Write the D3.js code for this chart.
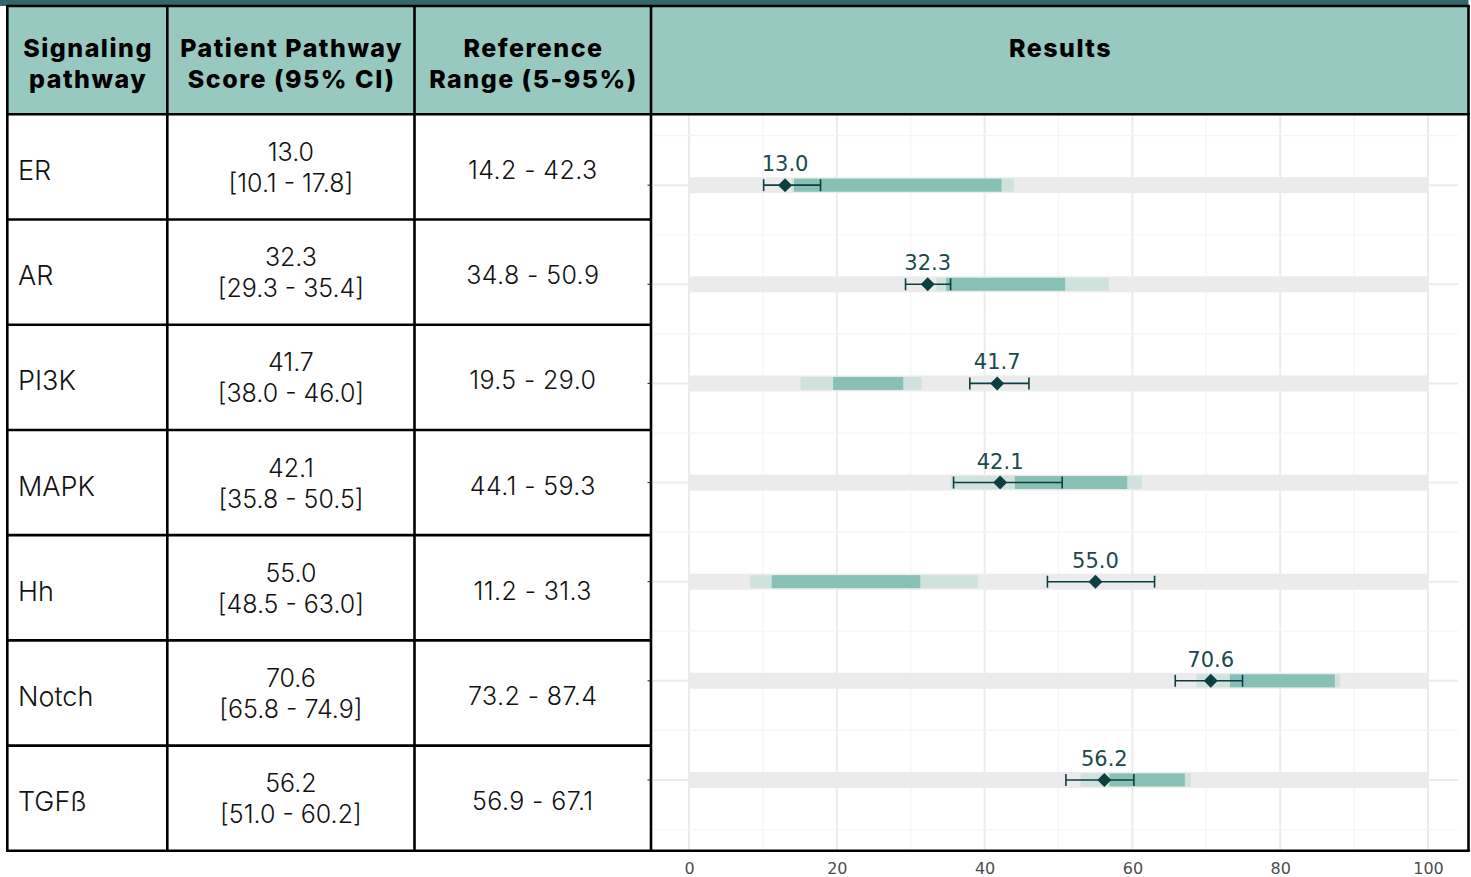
<!DOCTYPE html>
<html>
<head>
<meta charset="utf-8">
<script src="https://cdn.jsdelivr.net/npm/d3@7"></script>
<style>
  html, body { margin: 0; padding: 0; background: #ffffff; }
  svg { display: block; }
</style>
</head>
<body>
<svg id="chart" width="1471" height="877"></svg>
<script>
// ---------------- data ----------------
const pathways   = ["ER", "AR", "PI3K", "MAPK", "Hh", "Notch", "TGFß"];
const scores     = [13.0, 32.3, 41.7, 42.1, 55.0, 70.6, 56.2];
const ciLow      = [10.1, 29.3, 38.0, 35.8, 48.5, 65.8, 51.0];
const ciHigh     = [17.8, 35.4, 46.0, 50.5, 63.0, 74.9, 60.2];
const refLow     = [14.2, 34.8, 19.5, 44.1, 11.2, 73.2, 56.9];
const refHigh    = [42.3, 50.9, 29.0, 59.3, 31.3, 87.4, 67.1];
const outerLow   = [13.9, 33.5, 15.1, 35.4, 8.3, 68.7, 53.0];
const outerHigh  = [44.0, 56.8, 31.5, 61.3, 39.1, 88.1, 67.9];
const xTicks     = [0, 20, 40, 60, 80, 100];
const xMinor     = [10, 30, 50, 70, 90];
const headers    = [["Signaling", "pathway"], ["Patient Pathway", "Score (95% CI)"], ["Reference", "Range (5-95%)"], ["Results"]];

// ---------------- layout ----------------
const svg = d3.select("#chart");
const colX = [7.3, 167.3, 414.5, 651, 1468.5];
const headTop = 6, headBottom = 114.3, tableBottom = 850.8;
const rowH = (tableBottom - headBottom) / pathways.length;

const panel = { left: 653, right: 1458, top: headBottom, bottom: tableBottom };
const x = d3.scaleLinear().domain([0, 100]).range([689, 1428]);
const y = d3.scalePoint().domain(pathways).range([panel.top, panel.bottom]).padding(0.715);

const C = {
  strip: "#31676a", head: "#98c9c1", gray: "#ebebeb", outer: "#cfe2de",
  inner: "#89c0b6", mark: "#0c3f40", label: "#1a4a4c", grid: "#ebebeb", gridMinor: "#f4f4f4"
};

// top strip
svg.append("rect").attr("x", 0).attr("y", 0).attr("width", 1468.5).attr("height", 6).attr("fill", C.strip);
// header fill
svg.append("rect").attr("x", colX[0]).attr("y", headTop).attr("width", colX[4] - colX[0]).attr("height", headBottom - headTop).attr("fill", C.head);

// ---------------- plot panel ----------------
const g = svg.append("g");
// vertical gridlines
g.selectAll("line.vmin").data(xMinor).join("line")
  .attr("x1", d => x(d)).attr("x2", d => x(d)).attr("y1", panel.top).attr("y2", panel.bottom)
  .attr("stroke", C.gridMinor).attr("stroke-width", 1.2);
g.selectAll("line.vmaj").data(xTicks).join("line")
  .attr("x1", d => x(d)).attr("x2", d => x(d)).attr("y1", panel.top).attr("y2", panel.bottom)
  .attr("stroke", C.grid).attr("stroke-width", 2);
// horizontal gridlines
const stepY = y.step();
const minorY = d3.range(pathways.length + 1).map(i => y(pathways[0]) - stepY / 2 + i * stepY)
  .filter(v => v > panel.top && v < panel.bottom);
g.selectAll("line.hmin").data(minorY).join("line")
  .attr("x1", panel.left).attr("x2", panel.right).attr("y1", d => d).attr("y2", d => d)
  .attr("stroke", C.gridMinor).attr("stroke-width", 1.2);
g.selectAll("line.hmaj").data(pathways).join("line")
  .attr("x1", panel.left).attr("x2", panel.right).attr("y1", d => y(d)).attr("y2", d => y(d))
  .attr("stroke", C.grid).attr("stroke-width", 2);

// background bars 0-100
g.selectAll("rect.bg").data(pathways).join("rect")
  .attr("x", x(0)).attr("width", x(100) - x(0))
  .attr("y", d => y(d) - 8).attr("height", 16).attr("fill", C.gray);
// outer range
g.selectAll("rect.outer").data(pathways).join("rect")
  .attr("x", (d, i) => x(outerLow[i])).attr("width", (d, i) => x(outerHigh[i]) - x(outerLow[i]))
  .attr("y", d => y(d) - 6.5).attr("height", 13).attr("fill", C.outer);
// reference range 5-95
g.selectAll("rect.inner").data(pathways).join("rect")
  .attr("x", (d, i) => x(refLow[i])).attr("width", (d, i) => x(refHigh[i]) - x(refLow[i]))
  .attr("y", d => y(d) - 6.5).attr("height", 13).attr("fill", C.inner);

// error bars
const eb = g.selectAll("g.eb").data(pathways).join("g");
eb.append("line")
  .attr("x1", (d, i) => x(ciLow[i])).attr("x2", (d, i) => x(ciHigh[i]))
  .attr("y1", d => y(d)).attr("y2", d => y(d))
  .attr("stroke", C.mark).attr("stroke-width", 1.6);
eb.append("line")
  .attr("x1", (d, i) => x(ciLow[i])).attr("x2", (d, i) => x(ciLow[i]))
  .attr("y1", d => y(d) - 6).attr("y2", d => y(d) + 6)
  .attr("stroke", C.mark).attr("stroke-width", 1.6);
eb.append("line")
  .attr("x1", (d, i) => x(ciHigh[i])).attr("x2", (d, i) => x(ciHigh[i]))
  .attr("y1", d => y(d) - 6).attr("y2", d => y(d) + 6)
  .attr("stroke", C.mark).attr("stroke-width", 1.6);
// diamonds
g.selectAll("path.dia").data(pathways).join("path")
  .attr("d", (d, i) => {
    const cx = x(scores[i]), cy = y(d);
    return `M${cx - 7},${cy} L${cx},${cy - 7} L${cx + 7},${cy} L${cx},${cy + 7} Z`;
  })
  .attr("fill", C.mark);
// score labels
g.selectAll("text.lab").data(pathways).join("text")
  .attr("x", (d, i) => x(scores[i])).attr("y", d => y(d) - 14)
  .attr("text-anchor", "middle")
  .attr("font-family", "DejaVu Sans").attr("font-size", 21).attr("fill", C.label)
  .text((d, i) => scores[i].toFixed(1));

// y ticks
g.selectAll("line.ytick").data(pathways).join("line")
  .attr("x1", 647.5).attr("x2", colX[3]).attr("y1", d => y(d)).attr("y2", d => y(d))
  .attr("stroke", "#333").attr("stroke-width", 1.1);

// x axis labels
const xAxis = d3.axisBottom(x).tickValues(xTicks).tickSize(0).tickPadding(0).tickFormat(d3.format("d"));
const ax = svg.append("g").attr("transform", `translate(0,${tableBottom})`).call(xAxis);
ax.select(".domain").remove();
ax.selectAll("text").attr("font-family", "DejaVu Sans").attr("font-size", 16).attr("fill", "#4d4d4d")
  .attr("dy", null).attr("y", 23);

// ---------------- table ----------------
const bodyFont = "Inter";
const t = svg.append("g");
const hls = 1.5;
// header text
headers.forEach((lines, c) => {
  const cx = (colX[c] + colX[c + 1]) / 2 + hls / 2;
  lines.forEach((ln, k) => {
    t.append("text")
      .attr("x", cx).attr("y", 57 + k * 31)
      .attr("text-anchor", "middle")
      .attr("font-family", bodyFont).attr("font-weight", 800).attr("font-size", 25)
      .attr("letter-spacing", hls)
      .attr("fill", "#000")
      .text(ln);
  });
});
// body rows
pathways.forEach((p, i) => {
  const top = headBottom + i * rowH, mid = top + rowH / 2;
  t.append("text").attr("x", 18).attr("y", mid + 13)
    .attr("font-family", bodyFont).attr("font-weight", 300).attr("font-size", 27).attr("fill", "#111")
    .text(p);
  const c1 = (colX[1] + colX[2]) / 2;
  t.append("text").attr("x", c1).attr("y", mid - 6)
    .attr("text-anchor", "middle")
    .attr("font-family", bodyFont).attr("font-weight", 300).attr("font-size", 25).attr("fill", "#111")
    .text(scores[i].toFixed(1));
  t.append("text").attr("x", c1).attr("y", mid + 25)
    .attr("text-anchor", "middle")
    .attr("font-family", bodyFont).attr("font-weight", 300).attr("font-size", 25).attr("fill", "#111")
    .text(`[${ciLow[i].toFixed(1)} - ${ciHigh[i].toFixed(1)}]`);
  const c2 = (colX[2] + colX[3]) / 2;
  t.append("text").attr("x", c2).attr("y", mid + 12)
    .attr("text-anchor", "middle")
    .attr("font-family", bodyFont).attr("font-weight", 300).attr("font-size", 25).attr("fill", "#111")
    .attr("letter-spacing", 0.4)
    .text(`${refLow[i].toFixed(1)} - ${refHigh[i].toFixed(1)}`);
});

// table borders
const bw = 2.6;
const lines = [];
// verticals
colX.forEach(cx => lines.push([cx, headTop, cx, tableBottom]));
// horizontals
lines.push([colX[0] - bw / 2, headTop, colX[4] + bw / 2, headTop]);
lines.push([colX[0] - bw / 2, headBottom, colX[4] + bw / 2, headBottom]);
d3.range(1, pathways.length).forEach(i => lines.push([colX[0], headBottom + i * rowH, colX[3], headBottom + i * rowH]));
lines.push([colX[0] - bw / 2, tableBottom, colX[4] + bw / 2, tableBottom]);
t.selectAll("line.b").data(lines).join("line")
  .attr("x1", d => d[0]).attr("y1", d => d[1]).attr("x2", d => d[2]).attr("y2", d => d[3])
  .attr("stroke", "#000").attr("stroke-width", bw);
</script>
</body>
</html>
